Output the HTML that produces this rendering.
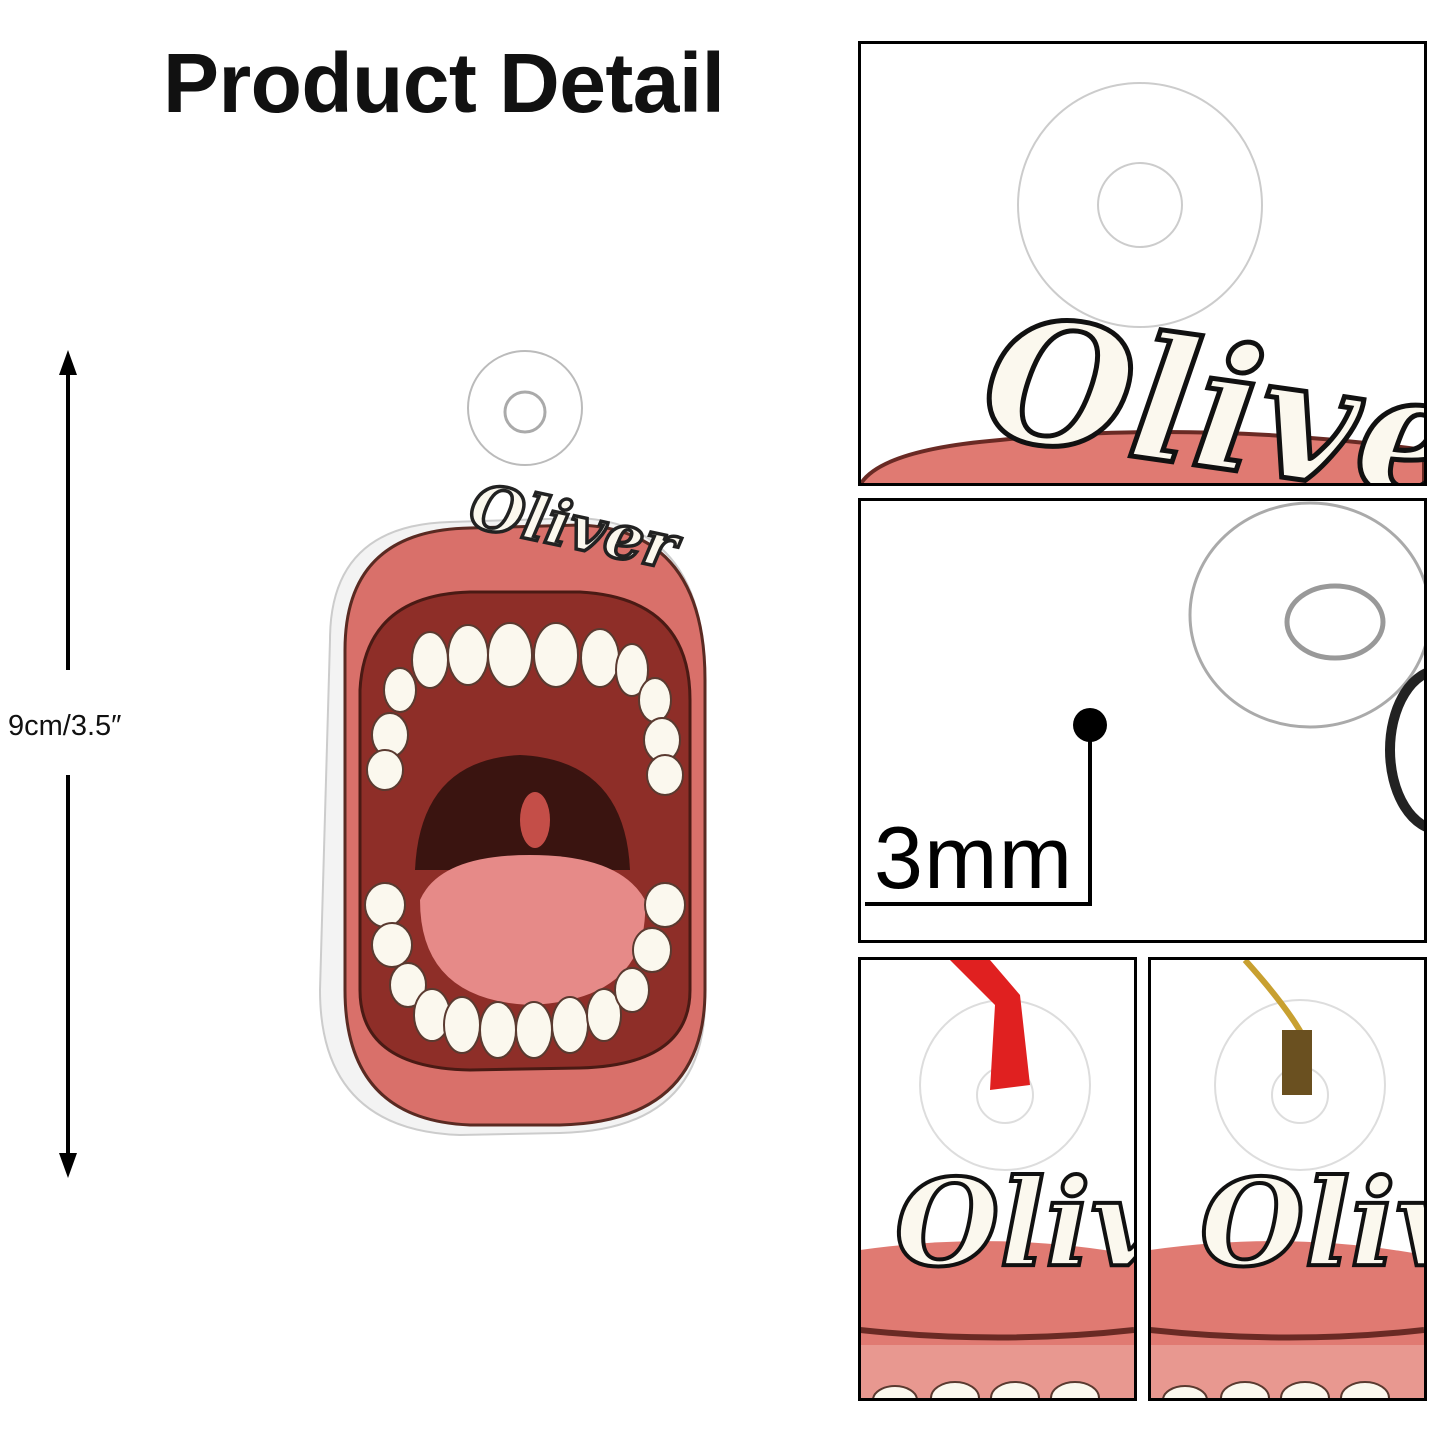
<!DOCTYPE html>
<html><head><meta charset="utf-8"><style>
html,body{margin:0;padding:0;background:#fff;}
svg{display:block}
</style></head><body>
<svg width="1445" height="1445" viewBox="0 0 1445 1445" xmlns="http://www.w3.org/2000/svg">
<defs>
<clipPath id="c1"><rect x="860" y="43" width="564" height="440"/></clipPath>
<clipPath id="c2"><rect x="860" y="500" width="564" height="440"/></clipPath>
<clipPath id="c3"><rect x="860" y="959" width="274" height="439"/></clipPath>
<clipPath id="c4"><rect x="1150" y="959" width="274" height="439"/></clipPath>
</defs>
<rect width="1445" height="1445" fill="#fff"/>
<text x="163" y="112" font-family="Liberation Sans, sans-serif" font-weight="bold" font-size="84" fill="#111" textLength="562">Product Detail</text>

<line x1="68" y1="365" x2="68" y2="670" stroke="#000" stroke-width="4"/>
<line x1="68" y1="775" x2="68" y2="1163" stroke="#000" stroke-width="4"/>
<polygon points="68,350 59,375 77,375" fill="#000"/>
<polygon points="68,1178 59,1153 77,1153" fill="#000"/>
<text x="8" y="735" font-family="Liberation Sans, sans-serif" font-size="29" fill="#111">9cm/3.5″</text>

<circle cx="525" cy="408" r="57" fill="#fff" stroke="#bbb" stroke-width="2"/>
<circle cx="525" cy="412" r="20" fill="#fff" stroke="#aaa" stroke-width="3"/>
<path d="M330 640 Q330 525 450 522 L580 518 Q705 525 705 680 L705 1000 Q705 1130 560 1133 L460 1135 Q320 1130 320 990 Z" fill="#f3f3f3" stroke="#ccc" stroke-width="2"/>
<path d="M345 650 Q345 530 470 528 L580 525 Q705 530 705 680 L705 990 Q705 1122 560 1125 L470 1125 Q345 1120 345 990 Z" fill="#d9706a" stroke="#5a2a22" stroke-width="3"/>
<path d="M360 690 Q365 595 470 592 L580 592 Q690 598 690 700 L690 990 Q690 1065 580 1068 L470 1070 Q360 1068 360 990 Z" fill="#8e2e28" stroke="#4a1a14" stroke-width="3"/>
<path d="M415 870 Q420 760 520 755 Q625 760 630 870 Z" fill="#3a1410"/>
<ellipse cx="535" cy="820" rx="15" ry="28" fill="#c44e48"/>
<path d="M420 900 Q440 855 530 855 Q620 855 645 900 Q650 1000 530 1005 Q420 1000 420 900 Z" fill="#e68a88"/>
<g fill="#fbf8ee" stroke="#5a3a30" stroke-width="2">
<ellipse cx="430" cy="660" rx="18" ry="28"/><ellipse cx="468" cy="655" rx="20" ry="30"/><ellipse cx="510" cy="655" rx="22" ry="32"/><ellipse cx="556" cy="655" rx="22" ry="32"/><ellipse cx="600" cy="658" rx="19" ry="29"/><ellipse cx="632" cy="670" rx="16" ry="26"/>
<ellipse cx="400" cy="690" rx="16" ry="22"/><ellipse cx="390" cy="735" rx="18" ry="22"/><ellipse cx="385" cy="770" rx="18" ry="20"/>
<ellipse cx="655" cy="700" rx="16" ry="22"/><ellipse cx="662" cy="740" rx="18" ry="22"/><ellipse cx="665" cy="775" rx="18" ry="20"/>
<ellipse cx="385" cy="905" rx="20" ry="22"/><ellipse cx="392" cy="945" rx="20" ry="22"/><ellipse cx="408" cy="985" rx="18" ry="22"/><ellipse cx="432" cy="1015" rx="18" ry="26"/><ellipse cx="462" cy="1025" rx="18" ry="28"/><ellipse cx="498" cy="1030" rx="18" ry="28"/><ellipse cx="534" cy="1030" rx="18" ry="28"/><ellipse cx="570" cy="1025" rx="18" ry="28"/><ellipse cx="604" cy="1015" rx="17" ry="26"/><ellipse cx="632" cy="990" rx="17" ry="22"/><ellipse cx="652" cy="950" rx="19" ry="22"/><ellipse cx="665" cy="905" rx="20" ry="22"/>
</g>
<text x="470" y="545" font-family="DejaVu Serif, serif" font-style="italic" font-weight="bold" font-size="62" fill="#fbf8ee" stroke="#222" stroke-width="3.5" transform="rotate(12 560 520)">Oliver</text>

<g clip-path="url(#c1)">
<circle cx="1140" cy="205" r="122" fill="#fff" stroke="#ccc" stroke-width="2"/>
<circle cx="1140" cy="205" r="42" fill="#fff" stroke="#ccc" stroke-width="2"/>
<path d="M860 485 Q880 450 1000 440 Q1200 420 1424 450 L1424 485 Z" fill="#e07a72" stroke="#6a2a24" stroke-width="4"/>
<text x="985" y="465" font-family="DejaVu Serif, serif" font-style="italic" font-weight="bold" font-size="170" fill="#fbf8ee" stroke="#111" stroke-width="5" transform="rotate(8 1200 400)">Oliver</text>
</g>
<rect x="859.5" y="42.5" width="566" height="442" fill="none" stroke="#000" stroke-width="3"/>

<g clip-path="url(#c2)">
<ellipse cx="1310" cy="615" rx="120" ry="112" fill="#fff" stroke="#aaa" stroke-width="3"/>
<ellipse cx="1335" cy="622" rx="48" ry="36" fill="#fff" stroke="#999" stroke-width="5"/>
<ellipse cx="1440" cy="750" rx="50" ry="80" fill="#fff" stroke="#222" stroke-width="10"/>
</g>
<circle cx="1090" cy="725" r="17" fill="#000"/>
<polyline points="865,904 1090,904 1090,725" fill="none" stroke="#000" stroke-width="4"/>
<text x="874" y="888" font-family="Liberation Sans, sans-serif" font-size="88" fill="#000" textLength="198">3mm</text>
<rect x="859.5" y="499.5" width="566" height="442" fill="none" stroke="#000" stroke-width="3"/>

<g clip-path="url(#c3)">
<circle cx="1005" cy="1085" r="85" fill="#fff" stroke="#ddd" stroke-width="2"/>
<circle cx="1005" cy="1095" r="28" fill="#fff" stroke="#ddd" stroke-width="2"/>
<path d="M950 960 L990 960 L1020 995 L1030 1085 L990 1090 L995 1005 Z" fill="#e02020"/>
<path d="M860 1250 Q1000 1230 1134 1255 L1134 1400 L860 1400 Z" fill="#e07a72"/>
<path d="M860 1330 Q1000 1345 1134 1330" stroke="#6a2a24" stroke-width="6" fill="none"/>
<path d="M860 1345 L1134 1345 L1134 1400 L860 1400 Z" fill="#e89890"/>
<g fill="#fbf8ee" stroke="#5a3a30" stroke-width="2"><ellipse cx="895" cy="1400" rx="22" ry="14"/><ellipse cx="955" cy="1398" rx="24" ry="16"/><ellipse cx="1015" cy="1398" rx="24" ry="16"/><ellipse cx="1075" cy="1398" rx="24" ry="16"/></g>
<text x="895" y="1265" font-family="DejaVu Serif, serif" font-style="italic" font-weight="bold" font-size="120" fill="#fbf8ee" stroke="#111" stroke-width="4">Oliv</text>
</g>
<rect x="859.5" y="958.5" width="276" height="441" fill="none" stroke="#000" stroke-width="3"/>

<g clip-path="url(#c4)">
<circle cx="1300" cy="1085" r="85" fill="#fff" stroke="#ddd" stroke-width="2"/>
<circle cx="1300" cy="1095" r="28" fill="#fff" stroke="#ddd" stroke-width="2"/>
<path d="M1245 960 Q1290 1010 1305 1040" stroke="#c8a030" stroke-width="6" fill="none"/>
<rect x="1282" y="1030" width="30" height="65" fill="#6a5020"/>
<path d="M1150 1250 Q1290 1230 1424 1255 L1424 1400 L1150 1400 Z" fill="#e07a72"/>
<path d="M1150 1330 Q1290 1345 1424 1330" stroke="#6a2a24" stroke-width="6" fill="none"/>
<path d="M1150 1345 L1424 1345 L1424 1400 L1150 1400 Z" fill="#e89890"/>
<g fill="#fbf8ee" stroke="#5a3a30" stroke-width="2"><ellipse cx="1185" cy="1400" rx="22" ry="14"/><ellipse cx="1245" cy="1398" rx="24" ry="16"/><ellipse cx="1305" cy="1398" rx="24" ry="16"/><ellipse cx="1365" cy="1398" rx="24" ry="16"/></g>
<text x="1200" y="1265" font-family="DejaVu Serif, serif" font-style="italic" font-weight="bold" font-size="120" fill="#fbf8ee" stroke="#111" stroke-width="4">Oliv</text>
</g>
<rect x="1149.5" y="958.5" width="276" height="441" fill="none" stroke="#000" stroke-width="3"/>
</svg>
</body></html>
